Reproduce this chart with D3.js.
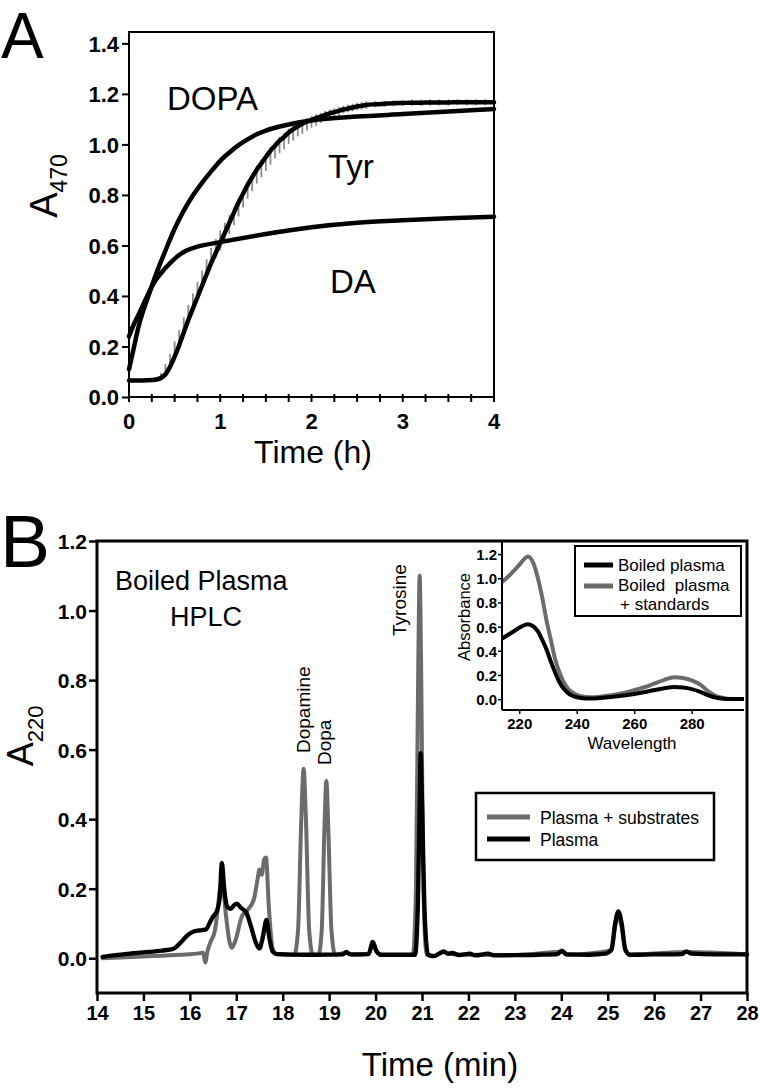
<!DOCTYPE html>
<html><head><meta charset="utf-8">
<script src="https://cdn.jsdelivr.net/npm/d3@7/dist/d3.min.js"></script>
<style>body{margin:0;background:#fff}svg{display:block}text{font-family:"Liberation Sans",Arial,sans-serif}</style>
</head><body>
<svg id="c" width="760" height="1088"></svg>
<script>
// ---------- Panel A data ----------
const timeTicksA = [0, 1, 2, 3, 4];
const timeMinorA = [0,0.25,0.5,0.75,1,1.25,1.5,1.75,2,2.25,2.5,2.75,3,3.25,3.5,3.75,4];
const absTicksA = [0, 0.2, 0.4, 0.6, 0.8, 1.0, 1.2, 1.4];
const dopaData = [[0,0.11],[0.05,0.19],[0.1,0.272],[0.15,0.335],[0.2,0.387],[0.3,0.49],[0.4,0.58],[0.5,0.666],[0.6,0.738],[0.7,0.798],[0.8,0.848],[0.9,0.893],[1.0,0.935],[1.1,0.968],[1.2,0.997],[1.3,1.02],[1.4,1.04],[1.5,1.055],[1.6,1.066],[1.7,1.075],[1.8,1.083],[2.0,1.095],[2.5,1.11],[3.0,1.12],[3.5,1.13],[4.0,1.14]];
const daData = [[0,0.24],[0.05,0.285],[0.12,0.338],[0.2,0.40],[0.27,0.45],[0.35,0.49],[0.45,0.53],[0.55,0.562],[0.63,0.58],[0.75,0.595],[1.0,0.613],[1.5,0.645],[2.0,0.672],[2.5,0.69],[3.0,0.70],[3.5,0.708],[4.0,0.714]];
// [time, value, error below, error above]
const tyrData = [[0,0.065,0.005,0.005],[0.1,0.065,0.005,0.005],[0.2,0.066,0.005,0.005],[0.25,0.067,0.005,0.005],[0.3,0.069,0.005,0.008],[0.35,0.075,0.008,0.02],[0.4,0.09,0.01,0.04],[0.45,0.12,0.01,0.05],[0.5,0.16,0.01,0.06],[0.55,0.205,0.01,0.06],[0.6,0.255,0.01,0.06],[0.65,0.305,0.01,0.06],[0.7,0.35,0.01,0.06],[0.75,0.395,0.01,0.06],[0.8,0.44,0.01,0.06],[0.85,0.485,0.01,0.06],[0.9,0.53,0.015,0.06],[0.95,0.57,0.02,0.055],[1.0,0.61,0.03,0.05],[1.05,0.65,0.04,0.04],[1.1,0.69,0.045,0.03],[1.15,0.73,0.05,0.02],[1.2,0.77,0.055,0.015],[1.25,0.805,0.055,0.015],[1.3,0.84,0.055,0.015],[1.35,0.87,0.055,0.015],[1.4,0.9,0.055,0.015],[1.45,0.925,0.055,0.015],[1.5,0.95,0.055,0.015],[1.55,0.975,0.055,0.015],[1.6,0.995,0.05,0.015],[1.65,1.015,0.05,0.015],[1.7,1.03,0.05,0.015],[1.75,1.047,0.045,0.015],[1.8,1.06,0.045,0.015],[1.85,1.072,0.04,0.015],[1.9,1.082,0.04,0.015],[1.95,1.09,0.035,0.015],[2.0,1.097,0.03,0.015],[2.05,1.104,0.03,0.015],[2.1,1.11,0.025,0.015],[2.15,1.117,0.025,0.015],[2.2,1.123,0.02,0.015],[2.25,1.128,0.02,0.015],[2.3,1.133,0.02,0.015],[2.35,1.138,0.015,0.015],[2.4,1.142,0.015,0.015],[2.45,1.146,0.015,0.015],[2.5,1.15,0.015,0.015],[2.55,1.153,0.015,0.015],[2.6,1.156,0.015,0.015],[2.7,1.159,0.012,0.012],[2.8,1.161,0.012,0.012],[2.9,1.163,0.012,0.012],[3.0,1.164,0.012,0.012],[3.1,1.165,0.012,0.012],[3.2,1.165,0.012,0.012],[3.3,1.166,0.012,0.012],[3.4,1.166,0.012,0.012],[3.5,1.166,0.012,0.012],[3.6,1.167,0.012,0.012],[3.7,1.167,0.012,0.012],[3.8,1.167,0.012,0.012],[3.9,1.167,0.012,0.012],[4.0,1.167,0.012,0.012]];

// ---------- Panel B data ----------
const minTicks = [14,15,16,17,18,19,20,21,22,23,24,25,26,27,28];
const a220Ticks = [0, 0.2, 0.4, 0.6, 0.8, 1.0, 1.2];
const plasmaData = [[14.12,0.004],[14.6,0.012],[15.0,0.017],[15.4,0.022],[15.64,0.027],[15.8,0.045],[15.95,0.066],[16.05,0.075],[16.2,0.08],[16.35,0.083],[16.42,0.1],[16.5,0.12],[16.58,0.135],[16.64,0.17],[16.69,0.274],[16.74,0.2],[16.8,0.15],[16.88,0.142],[16.95,0.152],[17.01,0.157],[17.1,0.145],[17.22,0.13],[17.32,0.09],[17.42,0.045],[17.5,0.028],[17.57,0.06],[17.65,0.11],[17.71,0.06],[17.78,0.02],[17.88,0.012],[18.5,0.01],[19.3,0.011],[19.37,0.018],[19.45,0.011],[19.85,0.012],[19.94,0.047],[20.02,0.02],[20.12,0.01],[20.85,0.01],[20.91,0.15],[20.95,0.45],[20.97,0.59],[21.0,0.45],[21.06,0.12],[21.13,0.01],[21.25,0.006],[21.4,0.016],[21.47,0.02],[21.55,0.013],[21.65,0.015],[21.8,0.009],[22.03,0.013],[22.15,0.008],[22.42,0.013],[22.55,0.008],[23.0,0.009],[23.5,0.01],[23.92,0.012],[24.01,0.022],[24.12,0.011],[24.6,0.01],[24.95,0.013],[25.08,0.025],[25.16,0.1],[25.23,0.135],[25.3,0.1],[25.38,0.025],[25.48,0.01],[26.0,0.011],[26.6,0.012],[26.7,0.02],[26.8,0.013],[27.3,0.011],[28.0,0.011]];
const plasmaSubData = [[14.12,0.0],[15.0,0.005],[15.8,0.01],[16.2,0.014],[16.29,0.016],[16.33,-0.012],[16.38,0.02],[16.44,0.045],[16.54,0.08],[16.6,0.14],[16.65,0.2],[16.7,0.21],[16.78,0.12],[16.85,0.05],[16.9,0.03],[16.98,0.05],[17.12,0.12],[17.25,0.14],[17.38,0.17],[17.45,0.22],[17.5,0.255],[17.55,0.24],[17.6,0.285],[17.64,0.29],[17.7,0.15],[17.78,0.03],[17.85,0.012],[18.25,0.01],[18.33,0.08],[18.4,0.4],[18.45,0.545],[18.5,0.4],[18.57,0.08],[18.65,0.01],[18.77,0.01],[18.84,0.08],[18.9,0.38],[18.94,0.51],[18.98,0.38],[19.05,0.08],[19.13,0.01],[19.37,0.016],[19.5,0.01],[19.85,0.012],[19.94,0.043],[20.02,0.02],[20.12,0.009],[20.8,0.009],[20.87,0.2],[20.92,0.85],[20.95,1.1],[20.98,0.85],[21.03,0.2],[21.1,0.01],[21.25,0.006],[21.47,0.018],[21.6,0.012],[22.0,0.01],[23.0,0.009],[24.01,0.019],[24.12,0.01],[25.08,0.022],[25.16,0.09],[25.23,0.125],[25.3,0.09],[25.38,0.022],[25.48,0.01],[26.7,0.018],[28.0,0.011]];

// ---------- Inset data ----------
const wlTicks = [220, 240, 260, 280];
const insetAbsTicks = [0, 0.2, 0.4, 0.6, 0.8, 1.0, 1.2];
const boiledData = [[214,0.50],[216,0.53],[218,0.56],[220,0.59],[222,0.615],[223,0.62],[225,0.60],[226.5,0.56],[228,0.49],[229.5,0.41],[231,0.31],[232.5,0.22],[234,0.14],[235.5,0.085],[237,0.05],[238.5,0.028],[240,0.015],[243,0.006],[246,0.006],[250,0.013],[255,0.025],[260,0.042],[265,0.065],[270,0.088],[274,0.1],[277,0.096],[280,0.083],[283,0.06],[286,0.03],[289,0.01],[292,0.002],[295,0.0],[298.2,0.0]];
const boiledStdData = [[214,0.97],[216,1.01],[218,1.06],[220,1.11],[222,1.165],[223,1.18],[225,1.12],[226.5,1.0],[228,0.84],[229.5,0.65],[231,0.49],[232.5,0.33],[234,0.22],[235.5,0.14],[237,0.085],[238.5,0.055],[240,0.035],[243,0.018],[246,0.016],[250,0.025],[255,0.045],[260,0.075],[265,0.11],[270,0.155],[274,0.182],[277,0.175],[280,0.155],[283,0.12],[286,0.06],[289,0.02],[292,0.005],[295,0.0],[298.2,0.0]];

const GRAY = "#6b6b6b";
const svg = d3.select("#c");
svg.append("rect").attr("width",760).attr("height",1088).attr("fill","#fff");
const FONT = '"Liberation Sans",Arial,sans-serif';

// ================= PANEL A =================
const xA = d3.scaleLinear().domain([0,4]).range([129,494]);
const yA = d3.scaleLinear().domain([0,1.445]).range([397,32]);
const gA = svg.append("g");

// error bars (Tyr)
gA.append("g").selectAll("line").data(tyrData).join("line")
  .attr("x1",d=>xA(d[0])).attr("x2",d=>xA(d[0]))
  .attr("y1",d=>yA(d[1]-d[2])).attr("y2",d=>yA(d[1]+d[3]))
  .attr("stroke","#8a8a8a").attr("stroke-width",1.8);

const lineA = d3.line().x(d=>xA(d[0])).y(d=>yA(d[1])).curve(d3.curveMonotoneX);
[dopaData, daData, tyrData].forEach(s=>{
  gA.append("path").attr("d",lineA(s)).attr("fill","none").attr("stroke","#000")
    .attr("stroke-width",4.5).attr("stroke-linecap","round").attr("stroke-linejoin","round");
});

// frame
gA.append("rect").attr("x",xA(0)).attr("y",yA(1.445)).attr("width",xA(4)-xA(0)).attr("height",yA(0)-yA(1.445))
  .attr("fill","none").attr("stroke","#000").attr("stroke-width",2);

// y axis A
const axA = gA.append("g").attr("transform",`translate(${xA(0)},0)`)
  .call(d3.axisLeft(yA).tickValues(absTicksA).tickSize(7).tickPadding(3).tickFormat(d3.format(".1f")));
axA.select(".domain").remove();
axA.selectAll("line").attr("stroke-width",2);
axA.selectAll("text").attr("font-size",22).attr("font-weight","bold").attr("font-family",FONT).attr("dy","0.36em");

// x axis A (minor + major)
gA.append("g").selectAll("line").data(timeMinorA).join("line")
  .attr("x1",d=>xA(d)).attr("x2",d=>xA(d)).attr("y1",yA(0)-3).attr("y2",yA(0)+5)
  .attr("stroke","#000").attr("stroke-width",2);
gA.append("g").selectAll("text").data(timeTicksA).join("text")
  .attr("x",d=>xA(d)).attr("y",429).attr("text-anchor","middle")
  .attr("font-size",22).attr("font-weight","bold").text(d=>d);

gA.append("text").attr("x",313).attr("y",463).attr("text-anchor","middle").attr("font-size",32).text("Time (h)");
const ylabA = gA.append("text").attr("transform","translate(57,186) rotate(-90)").attr("text-anchor","middle").attr("font-size",38);
ylabA.append("tspan").text("A");
ylabA.append("tspan").attr("font-size",23).attr("dy",10).text("470");

gA.append("text").attr("x",167).attr("y",110).attr("font-size",33).text("DOPA");
gA.append("text").attr("x",328).attr("y",178).attr("font-size",33).text("Tyr");
gA.append("text").attr("x",330).attr("y",293).attr("font-size",33).text("DA");
svg.append("text").attr("x",1).attr("y",58).attr("font-size",64).text("A");

// ================= PANEL B =================
const xB = d3.scaleLinear().domain([14,28]).range([97,747]);
const yB = d3.scaleLinear().domain([-0.1,1.2]).range([993,541]);
const gB = svg.append("g");
const lineB = d3.line().x(d=>xB(d[0])).y(d=>yB(d[1])).curve(d3.curveMonotoneX);

gB.append("path").attr("d",lineB(plasmaSubData)).attr("fill","none").attr("stroke",GRAY)
  .attr("stroke-width",4).attr("stroke-linejoin","round").attr("stroke-linecap","round");
gB.append("path").attr("d",lineB(plasmaData)).attr("fill","none").attr("stroke","#000")
  .attr("stroke-width",4.3).attr("stroke-linejoin","round").attr("stroke-linecap","round");

// frame
gB.append("rect").attr("x",xB(14)).attr("y",yB(1.2)).attr("width",xB(28)-xB(14)).attr("height",yB(-0.1)-yB(1.2))
  .attr("fill","none").attr("stroke","#000").attr("stroke-width",3);

const axBY = gB.append("g").attr("transform",`translate(${xB(14)},0)`)
  .call(d3.axisLeft(yB).tickValues(a220Ticks).tickSize(8).tickPadding(2).tickFormat(d3.format(".1f")));
axBY.select(".domain").remove();
axBY.selectAll("line").attr("stroke-width",2.5);
axBY.selectAll("text").attr("font-size",21).attr("font-weight","bold").attr("font-family",FONT).attr("dy","0.36em");

const axBX = gB.append("g").attr("transform",`translate(0,${yB(-0.1)})`)
  .call(d3.axisBottom(xB).tickValues(minTicks).tickSize(8).tickPadding(5).tickFormat(d3.format("d")));
axBX.select(".domain").remove();
axBX.selectAll("line").attr("stroke-width",2.5);
axBX.selectAll("text").attr("font-size",20).attr("font-weight","bold").attr("font-family",FONT);

gB.append("text").attr("x",440).attr("y",1076).attr("text-anchor","middle").attr("font-size",33).text("Time (min)");
const ylabB = gB.append("text").attr("transform","translate(33,736) rotate(-90)").attr("text-anchor","middle").attr("font-size",36);
ylabB.append("tspan").text("A");
ylabB.append("tspan").attr("font-size",22).attr("dy",10).text("220");
svg.append("text").attr("x",0).attr("y",567).attr("font-size",75).text("B");

gB.append("text").attr("x",115).attr("y",590).attr("font-size",27).text("Boiled Plasma");
gB.append("text").attr("x",206).attr("y",626).attr("text-anchor","middle").attr("font-size",27).text("HPLC");
gB.append("text").attr("transform",`translate(310,753) rotate(-90)`).attr("font-size",19).text("Dopamine");
gB.append("text").attr("transform",`translate(331,765) rotate(-90)`).attr("font-size",19).text("Dopa");
gB.append("text").attr("transform",`translate(406,636) rotate(-90)`).attr("font-size",19).text("Tyrosine");

// main legend
gB.append("rect").attr("x",476).attr("y",793).attr("width",238).attr("height",67).attr("fill","#fff").attr("stroke","#000").attr("stroke-width",2.5);
gB.append("line").attr("x1",487).attr("x2",530).attr("y1",817).attr("y2",817).attr("stroke",GRAY).attr("stroke-width",5);
gB.append("line").attr("x1",487).attr("x2",530).attr("y1",839).attr("y2",839).attr("stroke","#000").attr("stroke-width",5);
gB.append("text").attr("x",540).attr("y",824).attr("font-size",17.5).text("Plasma + substrates");
gB.append("text").attr("x",540).attr("y",846).attr("font-size",17.5).text("Plasma");

// ================= INSET =================
const xI = d3.scaleLinear().domain([214,298.2]).range([502,744]);
const yI = d3.scaleLinear().domain([-0.09,1.3]).range([710,542]);
const gI = svg.append("g");
const lineI = d3.line().x(d=>xI(d[0])).y(d=>yI(d[1])).curve(d3.curveMonotoneX);
gI.append("path").attr("d",lineI(boiledStdData)).attr("fill","none").attr("stroke",GRAY).attr("stroke-width",4).attr("stroke-linejoin","round");
gI.append("path").attr("d",lineI(boiledData)).attr("fill","none").attr("stroke","#000").attr("stroke-width",4).attr("stroke-linejoin","round");

gI.append("line").attr("x1",xI(214)).attr("x2",xI(214)).attr("y1",yI(1.3)).attr("y2",yI(-0.09)).attr("stroke","#000").attr("stroke-width",2);
gI.append("line").attr("x1",xI(214)).attr("x2",xI(298.2)).attr("y1",yI(-0.09)).attr("y2",yI(-0.09)).attr("stroke","#000").attr("stroke-width",2);

const axIY = gI.append("g").attr("transform",`translate(${xI(214)},0)`)
  .call(d3.axisLeft(yI).tickValues(insetAbsTicks).tickSize(4).tickPadding(1).tickFormat(d3.format(".1f")));
axIY.select(".domain").remove();
axIY.selectAll("line").attr("stroke-width",1.5);
axIY.selectAll("text").attr("font-size",15).attr("font-weight","bold").attr("font-family",FONT).attr("dy","0.36em");
const axIX = gI.append("g").attr("transform",`translate(0,${yI(-0.09)})`)
  .call(d3.axisBottom(xI).tickValues(wlTicks).tickSize(4).tickPadding(4));
axIX.select(".domain").remove();
axIX.selectAll("line").attr("stroke-width",1.5);
axIX.selectAll("text").attr("font-size",15).attr("font-weight","bold").attr("font-family",FONT);

gI.append("text").attr("x",632).attr("y",749).attr("text-anchor","middle").attr("font-size",17).text("Wavelength");
gI.append("text").attr("transform","translate(470,617) rotate(-90)").attr("text-anchor","middle").attr("font-size",16.5).text("Absorbance");

// inset legend
gI.append("rect").attr("x",575).attr("y",546).attr("width",166).attr("height",70).attr("fill","#fff").attr("stroke","#000").attr("stroke-width",2);
gI.append("line").attr("x1",584).attr("x2",613).attr("y1",565).attr("y2",565).attr("stroke","#000").attr("stroke-width",5);
gI.append("line").attr("x1",584).attr("x2",613).attr("y1",586).attr("y2",586).attr("stroke",GRAY).attr("stroke-width",5);
gI.append("text").attr("x",618).attr("y",571).attr("font-size",17).text("Boiled plasma");
gI.append("text").attr("x",618).attr("y",591).attr("font-size",17).style("white-space","pre").text("Boiled  plasma");
gI.append("text").attr("x",620).attr("y",610).attr("font-size",17).text("+ standards");
</script>
</body></html>
